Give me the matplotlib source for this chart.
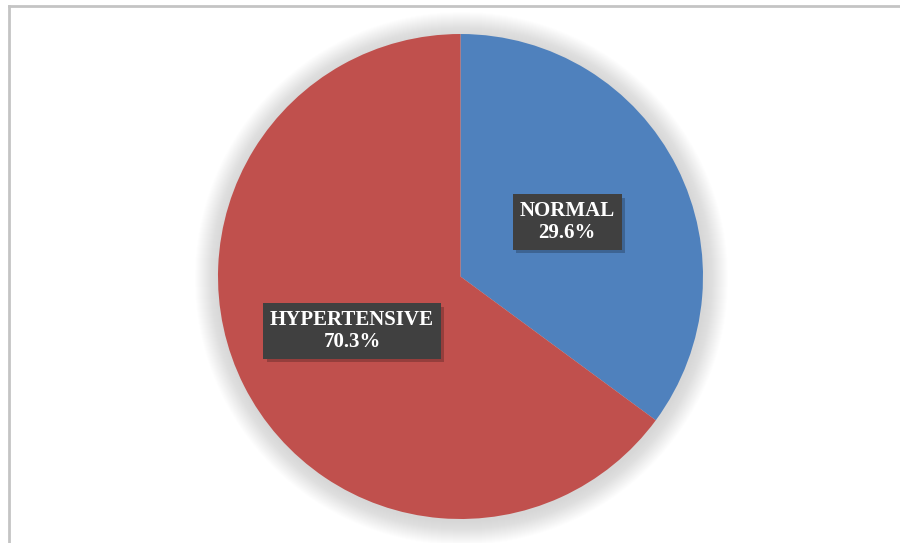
import matplotlib.pyplot as plt
import matplotlib.patheffects as pe
from matplotlib.patches import Circle

# slice shares as drawn in the picture, and the printed labels
categories = ['NORMAL', 'HYPERTENSIVE']
shares = [35.1, 64.9]
pct_labels = ['29.6%', '70.3%']
colors = ['#4F81BD', '#C0504D']

fig = plt.figure(figsize=(9, 5.43), dpi=100)
ax = fig.add_axes([0, 0, 1, 1])

cx, cy, r = 460.5, 266.5, 242.5

# soft glow/shadow round the pie
for k in range(24, 0, -1):
    ax.add_patch(Circle((cx + 1, cy - 2), r + k, color='#8a8a8a', alpha=0.011, lw=0, zorder=0))

wedges, _ = ax.pie(shares, colors=colors, startangle=90, counterclock=False,
                   center=(cx, cy), radius=r, frame=False,
                   wedgeprops=dict(linewidth=0))

# pie() resets the limits, so set them afterwards
ax.set_xlim(0, 900)
ax.set_ylim(0, 543)
ax.set_aspect('equal')
ax.axis('off')

label_pos = [(567, 321), (352, 212)]
for (x, y), cat, p in zip(label_pos, categories, pct_labels):
    t = ax.text(x, y, cat + '\n' + p, ha='center', va='center', color='white',
                fontsize=15, fontweight='bold', family='Liberation Serif',
                linespacing=1.1, zorder=5,
                bbox=dict(boxstyle='square,pad=0.33', fc='#404040', ec='none'))
    t.get_bbox_patch().set_path_effects([
        pe.SimplePatchShadow(offset=(2.5, -2.5), shadow_rgbFace='#000000', alpha=0.22),
        pe.Normal()])

# outer frame (top and left edges visible)
fig.add_artist(plt.Line2D([9 / 900, 9 / 900], [0, 1 - 6 / 543], transform=fig.transFigure,
                          color='#c4c4c4', lw=2))
fig.add_artist(plt.Line2D([9 / 900, 1], [1 - 6 / 543, 1 - 6 / 543], transform=fig.transFigure,
                          color='#c4c4c4', lw=2))

fig.savefig('out.png', dpi=100)
